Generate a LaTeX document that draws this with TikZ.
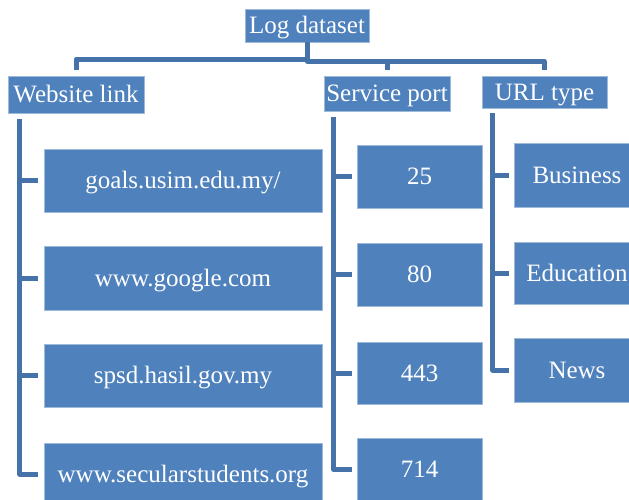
\documentclass[tikz,border=0pt]{standalone}
\usepackage{fontspec}
\setmainfont{Liberation Serif}
\usetikzlibrary{calc}
\definecolor{boxblue}{RGB}{79,129,189}
\definecolor{linkblue}{RGB}{70,114,170}
\tikzset{
  box/.style={fill=boxblue, draw=boxblue!55!white, line width=0.6pt,
    text=white, font=\fontsize{25}{29}\selectfont, inner sep=0pt,
    text height=16.5pt, text depth=0pt, align=center},
  wbox/.style={box, minimum width=278pt, minimum height=63pt},
  sbox/.style={box, minimum width=125pt, minimum height=63pt},
  ubox/.style={box, minimum width=126pt, minimum height=63pt},
  conn/.style={draw=linkblue, line width=5pt, line join=round},
}
\begin{document}
\begin{tikzpicture}[x=1pt,y=-1pt]
\useasboundingbox (0,0) rectangle (629,499);
\clip (0,0) rectangle (629,499);

% root and first level
\node[box, minimum width=124pt, minimum height=33pt] (log) at (307,25.5) {Log dataset};
\node[box, minimum width=136pt, minimum height=37pt] (web) at (76,94.5) {Website link};
\node[box, minimum width=126pt, minimum height=35pt] (serv) at (387,93.5) {Service port};
\node[box, minimum width=125pt, minimum height=32pt] (url) at (544.5,92) {URL type};

% website links
\node[wbox] (w1) at (183,180.5) {goals.usim.edu.my/};
\node[wbox, minimum height=64pt] (w2) at (183,278) {www.google.com};
\node[wbox] (w3) at (183,375.5) {spsd.hasil.gov.my};
\node[wbox, minimum height=62pt] (w4) at (183,474) {www.secularstudents.org};

% service ports
\node[sbox] (s1) at (419.5,176.5) {25};
\node[sbox] (s2) at (419.5,274.5) {80};
\node[sbox, minimum height=62pt] (s3) at (419.5,373) {443};
\node[sbox] (s4) at (419.5,469.5) {714};

% URL types
\node[ubox, minimum height=64pt] (u1) at (577,175) {Business};
\node[ubox, minimum height=62pt] (u2) at (577,273) {Education};
\node[ubox, minimum height=64pt] (u3) at (577,370) {News};

% bracket below the root
\path (log.south) ++(0,19) coordinate (barR);
\draw[conn] (log.south) -- ++(0,17) -| ([yshift=6pt]web.north);
\draw[conn] (log.south) -- (barR) -| ([yshift=6pt]url.north);
\draw[conn] (serv.north |- barR) -- ([yshift=6pt]serv.north);

% website link column
\coordinate (wtop) at ([xshift=12pt,yshift=-6pt]web.south west);
\draw[conn] (wtop) |- ([xshift=-6pt]w4.west);
\foreach \n in {w1,w2,w3}
  \draw[conn] (wtop |- \n.west) -- ([xshift=-6pt]\n.west);

% service port column
\coordinate (stop) at ([xshift=10pt,yshift=-6pt]serv.south west);
\draw[conn] (stop) |- ([xshift=-5pt]s4.west);
\foreach \n in {s1,s2,s3}
  \draw[conn] (stop |- \n.west) -- ([xshift=-5pt]\n.west);

% URL type column
\coordinate (utop) at ([xshift=11pt,yshift=-5pt]url.south west);
\draw[conn] (utop) |- ([xshift=-5pt]u3.west);
\foreach \n in {u1,u2}
  \draw[conn] (utop |- \n.west) -- ([xshift=-5pt]\n.west);
\end{tikzpicture}
\end{document}
